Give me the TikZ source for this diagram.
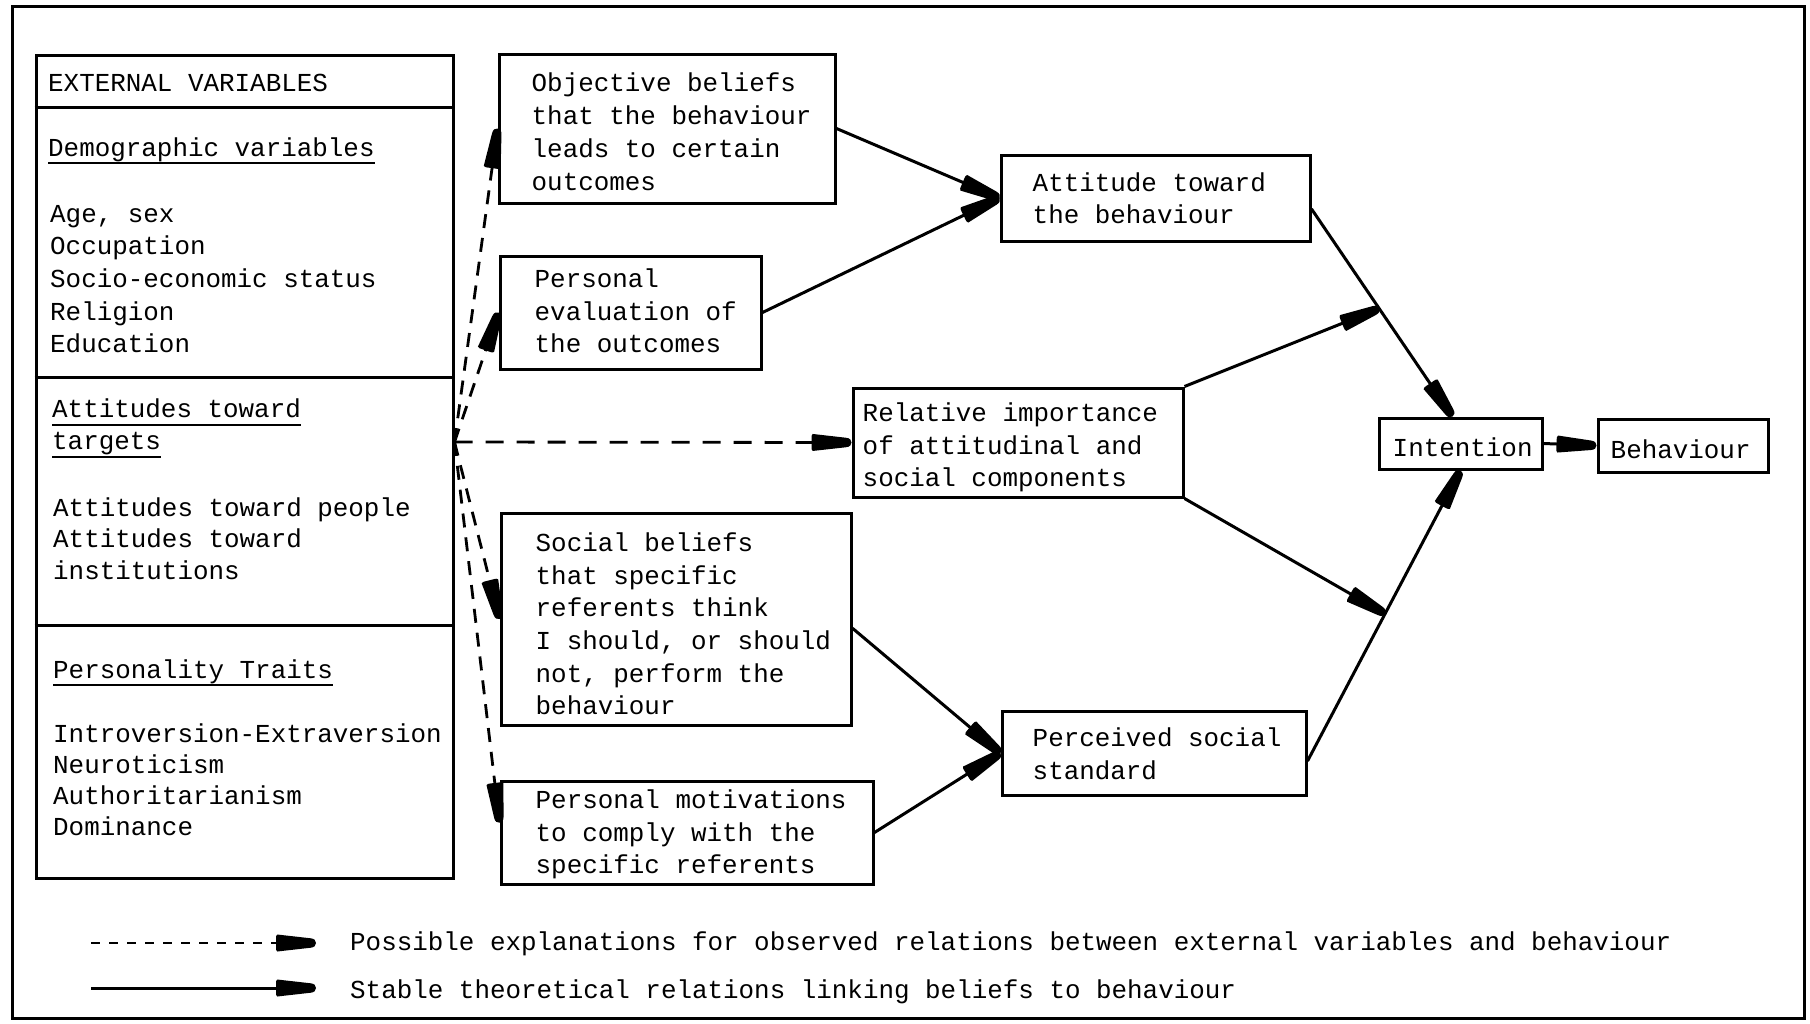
\documentclass[tikz,border=0pt]{standalone}
\usepackage{fontspec}
\setmainfont{Liberation Mono}
\usetikzlibrary{arrows.meta,calc,fit}
\newcommand\tfont{\fontsize{25.9}{32.7}\selectfont}
\pgfdeclarearrow{
  name = Plug,
  defaults = { length = 40pt, width = 17pt },
  setup code = {
    \pgfarrowssettipend{\pgfarrowlength}
    \pgfarrowssetbackend{0pt}
    \pgfarrowssetlineend{0.5\pgfarrowlength}
    \pgfarrowssavethe\pgfarrowlength
    \pgfarrowssavethe\pgfarrowwidth
  },
  drawing code = {
    \pgfpathmoveto{\pgfqpoint{0.03\pgfarrowlength}{0.5\pgfarrowwidth}}
    \pgfpathlineto{\pgfqpoint{0.86\pgfarrowlength}{0.28\pgfarrowwidth}}
    \pgfpathcurveto{\pgfqpoint{0.96\pgfarrowlength}{0.26\pgfarrowwidth}}{\pgfqpoint{\pgfarrowlength}{0.14\pgfarrowwidth}}{\pgfqpoint{\pgfarrowlength}{0pt}}
    \pgfpathcurveto{\pgfqpoint{\pgfarrowlength}{-0.14\pgfarrowwidth}}{\pgfqpoint{0.96\pgfarrowlength}{-0.26\pgfarrowwidth}}{\pgfqpoint{0.86\pgfarrowlength}{-0.28\pgfarrowwidth}}
    \pgfpathlineto{\pgfqpoint{0.03\pgfarrowlength}{-0.5\pgfarrowwidth}}
    \pgfpathcurveto{\pgfqpoint{0pt}{-0.45\pgfarrowwidth}}{\pgfqpoint{0pt}{-0.35\pgfarrowwidth}}{\pgfqpoint{0pt}{-0.3\pgfarrowwidth}}
    \pgfpathlineto{\pgfqpoint{0pt}{0.3\pgfarrowwidth}}
    \pgfpathcurveto{\pgfqpoint{0pt}{0.35\pgfarrowwidth}}{\pgfqpoint{0pt}{0.45\pgfarrowwidth}}{\pgfqpoint{0.03\pgfarrowlength}{0.5\pgfarrowwidth}}
    \pgfpathclose
    \pgfusepathqfill
  }
}
\begin{document}
\begin{tikzpicture}[x=1pt,y=-1pt,
  box/.style={draw, line width=3pt, inner sep=0pt, rectangle},
  txt/.style={inner sep=0pt, align=left, font=\tfont, anchor=west},
  ltxt/.style={inner sep=0pt, font=\tfont, anchor=base west},
  uline/.style={line width=2.2pt},
  conn/.style={line width=3pt, -{Plug[length=40pt,width=17pt]}},
  dconn/.style={line width=2.8pt, dash pattern=on 14pt off 10pt, -{Plug[length=40pt,width=17pt]}},
]
\useasboundingbox (0,0) rectangle (1810,1023);
\fill[white] (0,0) rectangle (1810,1023);
% outer frame
\node[box, line width=3pt, fit={(12,6) (1804,1018)}] (frame) {};
% external variables
\node[box, fit={(36,55) (453,878)}] (ext) {};
\draw[line width=3pt] (ext.west |- 0,107) -- (ext.east |- 0,107);
\draw[line width=3pt] (ext.west |- 0,377) -- (ext.east |- 0,377);
\draw[line width=3pt] (ext.west |- 0,625) -- (ext.east |- 0,625);
\node[ltxt] (evh) at (48,91) {EXTERNAL VARIABLES};
\node[ltxt] (demo) at (48,156) {Demographic variables};
\draw[uline] ([yshift=-7pt]demo.base west) -- ([yshift=-7pt]demo.base east);
\foreach \t [count=\i] in {{Age, sex},Occupation,Socio-economic status,Religion,Education}
  \node[ltxt] (dv\i) at (50,{222+32.7*(\i-1)}) {\t};
\node[ltxt] (att1) at (52,417) {Attitudes toward};
\draw[uline] ([yshift=-8pt]att1.base west) -- ([yshift=-8pt]att1.base east);
\node[ltxt] (att2) at (52,449) {targets};
\draw[uline] ([yshift=-8pt]att2.base west) -- ([yshift=-8pt]att2.base east);
\foreach \t [count=\i] in {Attitudes toward people,Attitudes toward,institutions}
  \node[ltxt] (av\i) at (53,{516+31.5*(\i-1)}) {\t};
\node[ltxt] (pers) at (53,678) {Personality Traits};
\draw[uline] ([yshift=-7pt]pers.base west) -- ([yshift=-7pt]pers.base east);
\foreach \t [count=\i] in {Introversion-Extraversion,Neuroticism,Authoritarianism,Dominance}
  \node[ltxt] (pv\i) at (53,{742+31*(\i-1)}) {\t};
% boxes
\node[box, fit={(499,54) (835,203)}] (obj) {};
\node[txt] (objt) at ([xshift=34pt,yshift=-6pt]obj.west) {\strut Objective beliefs\\that the behaviour\\leads to certain\\outcomes\strut};
\node[box, fit={(500,256) (761,369)}] (pev) {};
\node[txt] (pevt) at ([xshift=36pt,yshift=-1pt]pev.west) {\strut Personal\\evaluation of\\the outcomes\strut};
\node[box, fit={(853,388) (1183,497)}] (rel) {};
\node[txt] (relt) at ([xshift=11pt,yshift=-5pt]rel.west) {\strut Relative importance\\of attitudinal and\\social components\strut};
\node[box, fit={(1001,155) (1310,241)}] (att) {};
\node[txt] (attt) at ([xshift=33pt,yshift=-3pt]att.west) {\strut Attitude toward\\the behaviour\strut};
\node[box, fit={(501,513) (851,725)}] (soc) {};
\node[txt] (soct) at ([xshift=36pt,yshift=-7.5pt]soc.west) {\strut Social beliefs\\that specific\\referents think\\I should, or should\\not, perform the\\behaviour\strut};
\node[box, fit={(501,781) (873,884)}] (mot) {};
\node[txt] (mott) at ([xshift=36pt,yshift=-2pt]mot.west) {\strut Personal motivations\\to comply with the\\specific referents\strut};
\node[box, fit={(1002,711) (1306,795)}] (per) {};
\node[txt] (pert) at ([xshift=32pt,yshift=-3.5pt]per.west) {\strut Perceived social\\standard\strut};
\node[box, fit={(1379,418) (1542,469)}] (int) {};
\node[txt] (intt) at ([xshift=15pt,yshift=-6pt]int.west) {\strut Intention\strut};
\node[box, fit={(1598,419) (1768,472)}] (beh) {};
\node[txt] (beht) at ([xshift=14pt,yshift=-6pt]beh.west) {\strut Behaviour\strut};
% dashed connectors
\coordinate (src) at ([yshift=24.5pt]ext.east);
\draw[dconn] (src) -- (obj.west);
\draw[dconn] (src) -- (pev.west);
\draw[dconn, dash pattern=on 18pt off 13pt] (src) -- (rel.west);
\draw[dconn] (src) -- (soc.west);
\draw[dconn] (src) -- (mot.177);
% solid connectors
\draw[conn] (obj.east) -- (att.west);
\draw[conn] (pev.east) -- (att.west);
\draw[conn] (att.-4) -- coordinate[pos=0.48] (cj) ([xshift=-8pt]int.north);
\draw[conn] (rel.north east) -- (cj);
\draw[conn] (per.-3) -- coordinate[pos=0.507] (fj) (int.south);
\draw[conn] (rel.south east) -- (fj);
\draw[conn] (soc.-3) -- (per.west);
\draw[conn] (mot.east) -- (per.west);
\draw[conn] (int.east) -- (beh.west);
% legend
\coordinate (l1a) at (91,943);
\coordinate (l1b) at (316,943);
\draw[line width=2.8pt, dash pattern=on 9pt off 9pt, -{Plug[length=42pt,width=18pt]}] (l1a) -- (l1b);
\node[ltxt] (leg1) at (350,950) {Possible explanations for observed relations between external variables and behaviour};
\coordinate (l2a) at (91,988);
\coordinate (l2b) at (316,988);
\draw[line width=3pt, -{Plug[length=42pt,width=18pt]}] (l2a) -- (l2b);
\node[ltxt] (leg2) at (350,998) {Stable theoretical relations linking beliefs to behaviour};
\end{tikzpicture}
\end{document}
